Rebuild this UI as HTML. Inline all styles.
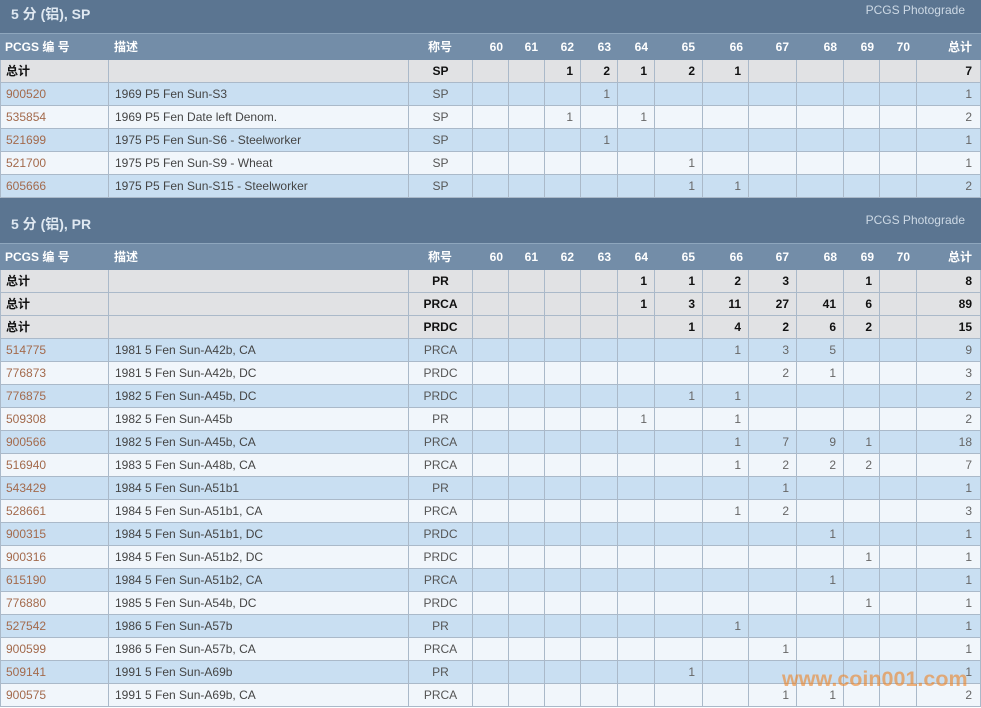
<!DOCTYPE html>
<html>
<head>
<meta charset="utf-8">
<style>
*{margin:0;padding:0;box-sizing:border-box;}
html,body{width:981px;height:708px;overflow:hidden;background:#fff;}
body{font-family:"Liberation Sans","Noto Sans CJK SC",sans-serif;font-size:12px;color:#3a3a3a;}
#wrap{position:absolute;left:0;top:-12px;width:981px;}
.bar{position:relative;height:46px;background:#5b7591;border-bottom:1px solid #8ea6bd;}
.bar .t{position:absolute;left:11px;top:16px;font-weight:bold;font-size:14px;color:#dfe8f1;font-family:"Liberation Sans","Noto Sans CJK SC",sans-serif;}
.bar .p{position:absolute;right:16px;top:15px;font-size:12px;color:#cdd9e5;}
.hdr{position:relative;height:26px;background:#738da8;color:#fff;font-weight:bold;}
.row{position:relative;height:23px;border-bottom:1px solid #aab9c9;}
.row.tot{background:#e1e2e4;color:#111;font-weight:bold;}
.row.b{background:#c9dff2;}
.row.l{background:#f1f6fb;}
.c{position:absolute;top:0;height:100%;line-height:22px;white-space:nowrap;overflow:hidden;}
.row .c{border-left:1px solid #aab9c9;}
.row .c.last{border-right:1px solid #aab9c9;}
.hdr .c{line-height:26px;}
.l0{left:0;width:108px;padding-left:5px;}
.l1{left:108px;width:300px;padding-left:6px;}
.l2{left:408px;width:64px;text-align:center;}
.n{text-align:right;padding-right:7px;}
.a{color:#a36a4c;}
.row:not(.tot) .num{color:#666;}
.row:not(.tot) .ti{color:#555;}
.row:not(.tot) .l1{color:#444;}
.wm{position:absolute;left:782px;top:667px;font-family:"Liberation Sans",sans-serif;font-weight:bold;font-size:21.5px;color:rgba(240,128,30,0.58);letter-spacing:0px;white-space:nowrap;}
</style>
</head>
<body>
<div id="wrap">

<div class="bar"><span class="t">5 分 (铝), SP</span><span class="p">PCGS Photograde</span></div>
<div class="hdr">
<span class="c l0">PCGS 编 号</span><span class="c l1">描述</span><span class="c l2">称号</span>
<span class="c n" style="left:472px;width:36px;padding-right:5px">60</span>
<span class="c n" style="left:508px;width:36px;padding-right:6px">61</span>
<span class="c n" style="left:544px;width:36px;padding-right:6px">62</span>
<span class="c n" style="left:580px;width:37px;padding-right:6px">63</span>
<span class="c n" style="left:617px;width:37px;padding-right:6px">64</span>
<span class="c n" style="left:654px;width:48px">65</span>
<span class="c n" style="left:702px;width:46px;padding-right:5px">66</span>
<span class="c n" style="left:748px;width:48px">67</span>
<span class="c n" style="left:796px;width:47px;padding-right:6px">68</span>
<span class="c n" style="left:843px;width:36px;padding-right:5px">69</span>
<span class="c n" style="left:879px;width:37px;padding-right:6px">70</span>
<span class="c n" style="left:916px;width:65px;padding-right:9px">总计</span>
</div>
<div id="s1"></div>

<div class="bar"><span class="t">5 分 (铝), PR</span><span class="p">PCGS Photograde</span></div>
<div class="hdr">
<span class="c l0">PCGS 编 号</span><span class="c l1">描述</span><span class="c l2">称号</span>
<span class="c n" style="left:472px;width:36px;padding-right:5px">60</span>
<span class="c n" style="left:508px;width:36px;padding-right:6px">61</span>
<span class="c n" style="left:544px;width:36px;padding-right:6px">62</span>
<span class="c n" style="left:580px;width:37px;padding-right:6px">63</span>
<span class="c n" style="left:617px;width:37px;padding-right:6px">64</span>
<span class="c n" style="left:654px;width:48px">65</span>
<span class="c n" style="left:702px;width:46px;padding-right:5px">66</span>
<span class="c n" style="left:748px;width:48px">67</span>
<span class="c n" style="left:796px;width:47px;padding-right:6px">68</span>
<span class="c n" style="left:843px;width:36px;padding-right:5px">69</span>
<span class="c n" style="left:879px;width:37px;padding-right:6px">70</span>
<span class="c n" style="left:916px;width:65px;padding-right:9px">总计</span>
</div>
<div id="s2"></div>

</div>
<div class="wm">www.coin001.com</div>

<script>
var cols=[[472,508],[508,544],[544,580],[580,617],[617,654],[654,702],[702,748],[748,796],[796,843],[843,879],[879,916]];
var grades=[60,61,62,63,64,65,66,67,68,69,70];
function row(cls,id,desc,title,vals,total){
  var h='<div class="row '+cls+'">';
  h+='<span class="c l0'+(cls!=='tot'?' a':'')+'">'+id+'</span>';
  h+='<span class="c l1">'+desc+'</span>';
  h+='<span class="c l2 ti">'+title+'</span>';
  for(var i=0;i<cols.length;i++){
    var v=vals[grades[i]]||'';
    h+='<span class="c n num" style="left:'+cols[i][0]+'px;width:'+(cols[i][1]-cols[i][0])+'px">'+v+'</span>';
  }
  h+='<span class="c n num last" style="left:916px;width:65px;padding-right:8px">'+total+'</span>';
  h+='</div>';
  return h;
}
var s1='';
s1+=row('tot','总计','','SP',{62:1,63:2,64:1,65:2,66:1},7);
var d1=[
['900520','1969 P5 Fen Sun-S3','SP',{63:1},1],
['535854','1969 P5 Fen Date left Denom.','SP',{62:1,64:1},2],
['521699','1975 P5 Fen Sun-S6 - Steelworker','SP',{63:1},1],
['521700','1975 P5 Fen Sun-S9 - Wheat','SP',{65:1},1],
['605666','1975 P5 Fen Sun-S15 - Steelworker','SP',{65:1,66:1},2]
];
for(var i=0;i<d1.length;i++){var r=d1[i];s1+=row(i%2?'l':'b',r[0],r[1],r[2],r[3],r[4]);}
document.getElementById('s1').innerHTML=s1;

var s2='';
s2+=row('tot','总计','','PR',{64:1,65:1,66:2,67:3,69:1},8);
s2+=row('tot','总计','','PRCA',{64:1,65:3,66:11,67:27,68:41,69:6},89);
s2+=row('tot','总计','','PRDC',{65:1,66:4,67:2,68:6,69:2},15);
var d2=[
['514775','1981 5 Fen Sun-A42b, CA','PRCA',{66:1,67:3,68:5},9],
['776873','1981 5 Fen Sun-A42b, DC','PRDC',{67:2,68:1},3],
['776875','1982 5 Fen Sun-A45b, DC','PRDC',{65:1,66:1},2],
['509308','1982 5 Fen Sun-A45b','PR',{64:1,66:1},2],
['900566','1982 5 Fen Sun-A45b, CA','PRCA',{66:1,67:7,68:9,69:1},18],
['516940','1983 5 Fen Sun-A48b, CA','PRCA',{66:1,67:2,68:2,69:2},7],
['543429','1984 5 Fen Sun-A51b1','PR',{67:1},1],
['528661','1984 5 Fen Sun-A51b1, CA','PRCA',{66:1,67:2},3],
['900315','1984 5 Fen Sun-A51b1, DC','PRDC',{68:1},1],
['900316','1984 5 Fen Sun-A51b2, DC','PRDC',{69:1},1],
['615190','1984 5 Fen Sun-A51b2, CA','PRCA',{68:1},1],
['776880','1985 5 Fen Sun-A54b, DC','PRDC',{69:1},1],
['527542','1986 5 Fen Sun-A57b','PR',{66:1},1],
['900599','1986 5 Fen Sun-A57b, CA','PRCA',{67:1},1],
['509141','1991 5 Fen Sun-A69b','PR',{65:1},1],
['900575','1991 5 Fen Sun-A69b, CA','PRCA',{67:1,68:1},2]
];
for(var i=0;i<d2.length;i++){var r=d2[i];s2+=row(i%2?'l':'b',r[0],r[1],r[2],r[3],r[4]);}
document.getElementById('s2').innerHTML=s2;
</script>
</body>
</html>
